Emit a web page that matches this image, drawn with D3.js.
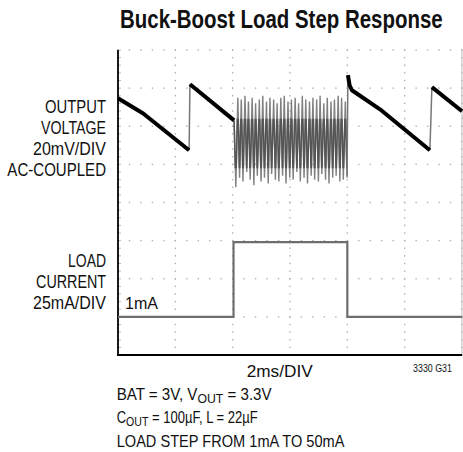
<!DOCTYPE html>
<html><head><meta charset="utf-8">
<script src="https://cdn.jsdelivr.net/npm/d3@7"></script>
<style>body{margin:0;background:#fff}svg{display:block}text{font-family:"Liberation Sans Narrow","Liberation Sans",Arial,sans-serif;fill:#111}</style>
</head><body><svg id="c" width="463" height="452"></svg>
<script>
// ---- data ----
const title = "Buck-Boost Load Step Response";
const timeDomainMs = [0, 12];          // 6 div x 2ms/div
const voltDomainMv = [-120, 40];       // 8 div x 20mV/div (AC-coupled)
const currDomainMa = [-24, 176];       // 8 div x 25mA/div
const xDivs = [0, 2, 4, 6, 8, 10, 12];
const yDivs = [0, 1, 2, 3, 4, 5, 6, 7, 8];

// output voltage thick trace segments (time ms, mV)
const vSeg1 = [[0, 14.7], [0.88, 6.7], [2.48, -12.6]];
const vSeg2 = [[2.51, 22.0], [4.05, 3.1]];
const vSeg3 = [[8.02, 26.8], [8.08, 21.5], [8.16, 18.9], [9.14, 8.9], [10.88, -12.6]];
const vSeg4 = [[10.95, 20.5], [12.0, 7.9]];
// thin jumps
const vJump1 = [[2.48, -12.6], [2.51, 22.0]];
const vJump2 = [[10.88, -12.6], [10.95, 20.5]];
const vJump3 = [[7.99, -26], [8.02, 26.8]];
// burst ripple during load step (time ms, mV)
const burstT = [4.05,4.11,4.18,4.24,4.30,4.36,4.43,4.49,4.55,4.61,4.68,4.74,4.80,4.86,4.93,4.99,
 5.05,5.11,5.18,5.24,5.30,5.36,5.43,5.49,5.55,5.61,5.68,5.74,5.80,5.86,5.93,5.99,
 6.05,6.11,6.18,6.24,6.30,6.36,6.43,6.49,6.55,6.61,6.68,6.74,6.80,6.86,6.93,6.99,
 7.05,7.11,7.18,7.24,7.30,7.36,7.43,7.49,7.55,7.61,7.68,7.74,7.80,7.86,7.93,7.99];
const burstV = [3,-32,15,-27,14,-29,16,-24,13,-28,15,-31,12,-26,14,-29,
 16,-27,13,-30,15,-25,14,-28,12,-29,15,-26,16,-30,13,-27,
 14,-28,15,-24,12,-29,16,-27,14,-30,13,-26,15,-28,14,-29,
 16,-25,12,-28,15,-30,13,-27,14,-26,16,-29,15,-28,13,-27];
// darker dense band inside the ripple (mV limits)
const burstBandMv = [-22, 4];
// load current (time ms, mA)
const iT = [0, 4.03, 4.03, 8.0, 8.0, 12];
const iV = [1, 1, 50, 50, 1, 1];

const leftTop = ["OUTPUT", "VOLTAGE", "20mV/DIV", "AC-COUPLED"];
const leftBottom = ["LOAD", "CURRENT", "25mA/DIV"];

// ---- layout ----
const L = 118, R = 462, T = 50, B = 355;
const svg = d3.select("#c");
const x = d3.scaleLinear().domain(timeDomainMs).range([L, R]);
const yDiv = d3.scaleLinear().domain([0, 8]).range([B, T]);
const yV = d3.scaleLinear().domain(voltDomainMv).range([B, T]);
const yI = d3.scaleLinear().domain(currDomainMa).range([B, T]);

// grid: dotted lines with dots at 1/5 division
const g = svg.append("g");
const dots = [];
xDivs.forEach(t => { for (let k = 0; k <= 40; k++) dots.push([x(t), yDiv(k / 5)]); });
yDivs.forEach(d => { for (let k = 0; k <= 30; k++) dots.push([x(k * 0.4), yDiv(d)]); });
g.selectAll("rect.dot").data(dots).join("rect").attr("class", "dot")
  .attr("x", d => d[0] - 0.7).attr("y", d => d[1] - 0.7)
  .attr("width", 1.4).attr("height", 1.4).attr("fill", "#b0b0b0");
const lt = [];
for (let k = 0; k <= 40; k++) lt.push(k / 5);
g.selectAll("line.lt").data(lt).join("line").attr("class", "lt")
  .attr("x1", L).attr("x2", L + 3).attr("y1", d => yDiv(d)).attr("y2", d => yDiv(d))
  .attr("stroke", "#aaa").attr("stroke-width", 0.8);
g.append("line").attr("x1", R).attr("x2", R).attr("y1", T).attr("y2", B).attr("stroke", "#bbb").attr("stroke-width", 1);
g.append("line").attr("x1", L).attr("x2", L).attr("y1", T).attr("y2", B + 1).attr("stroke", "#000").attr("stroke-width", 1.8);
g.append("line").attr("x1", L - 0.9).attr("x2", R).attr("y1", B).attr("y2", B).attr("stroke", "#000").attr("stroke-width", 2);

// traces
const lineV = d3.line().x(d => x(d[0])).y(d => yV(d[1]));
const tr = svg.append("g").attr("fill", "none");
tr.append("path").datum(iT.map((t, i) => [t, iV[i]]))
  .attr("d", d3.line().x(d => x(d[0])).y(d => yI(d[1])))
  .attr("stroke", "#6e6e6e").attr("stroke-width", 2.2);
const burst = burstT.map((t, i) => [t, burstV[i]]);
tr.append("path").datum(burst)
  .attr("d", lineV).attr("stroke", "#808080").attr("stroke-width", 1.4).attr("stroke-linejoin", "miter");
svg.append("clipPath").attr("id", "band").append("rect")
  .attr("x", x(4)).attr("width", x(8.05) - x(4))
  .attr("y", yV(burstBandMv[1])).attr("height", yV(burstBandMv[0]) - yV(burstBandMv[1]));
tr.append("path").datum(burst).attr("clip-path", "url(#band)")
  .attr("d", lineV).attr("stroke", "#555").attr("stroke-width", 1.5);
[vJump1, vJump2, vJump3].forEach(s => tr.append("path").datum(s).attr("d", lineV)
  .attr("stroke", "#777").attr("stroke-width", 1.5));
[vSeg1, vSeg2, vSeg3, vSeg4].forEach(s => tr.append("path").datum(s).attr("d", lineV)
  .attr("stroke", "#000").attr("stroke-width", 4).attr("stroke-linejoin", "round"));

// ---- text ----
function fit(sel, w, ax) {
  const cw = sel.node().getComputedTextLength();
  sel.attr("transform", `translate(${ax},0) scale(${w / cw},1) translate(${-ax},0)`);
}
const tt = svg.append("text").attr("x", 120).attr("y", 28).attr("font-size", 25).attr("font-weight", "bold").text(title);
fit(tt, 323, 120);

const ltW = [61, 65, 73, 98.7];
leftTop.forEach((s, i) => {
  const t = svg.append("text").attr("x", 106).attr("y", 113.3 + i * 20.9).attr("text-anchor", "end").attr("font-size", 17.5).text(s);
  fit(t, ltW[i], 106);
});
const lbW = [38, 70, 73];
leftBottom.forEach((s, i) => {
  const t = svg.append("text").attr("x", 106).attr("y", 267.3 + i * 21).attr("text-anchor", "end").attr("font-size", 17.5).text(s);
  fit(t, lbW[i], 106);
});
fit(svg.append("text").attr("x", 125).attr("y", 309.3).attr("font-size", 16).text("1mA"), 33, 125);
fit(svg.append("text").attr("x", 246.7).attr("y", 377.3).attr("font-size", 16).text("2ms/DIV"), 66, 246.7);
fit(svg.append("text").attr("x", 452).attr("y", 371.7).attr("text-anchor", "end").attr("font-size", 10).text("3330 G31"), 39, 452);

function subLine(y, parts, w) {
  const t = svg.append("text").attr("x", 116.7).attr("y", y).attr("font-size", 16);
  parts.forEach(p => {
    const ts = t.append("tspan").text(p.s);
    if (p.sub) ts.attr("font-size", 13).attr("dy", 3);
    if (p.back) ts.attr("dy", -3);
  });
  fit(t, w, 116.7);
}
subLine(400, [{s: "BAT = 3V, V"}, {s: "OUT", sub: true}, {s: " = 3.3V", back: true}], 155);
subLine(423.3, [{s: "C"}, {s: "OUT", sub: true}, {s: " = 100µF, L = 22µF", back: true}], 141);
subLine(446.7, [{s: "LOAD STEP FROM 1mA TO 50mA"}], 228);
</script></body></html>
